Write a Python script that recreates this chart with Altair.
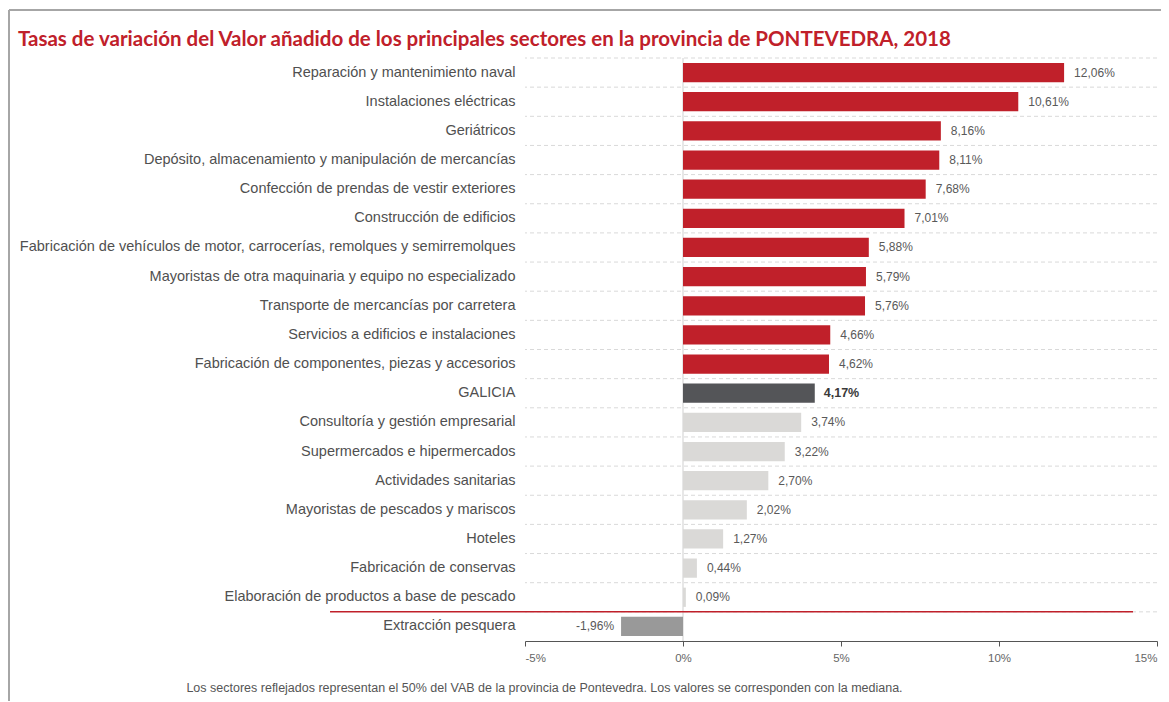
import altair as alt
import pandas as pd

categories = [
    "Reparación y mantenimiento naval",
    "Instalaciones eléctricas",
    "Geriátricos",
    "Depósito, almacenamiento y manipulación de mercancías",
    "Confección de prendas de vestir exteriores",
    "Construcción de edificios",
    "Fabricación de vehículos de motor, carrocerías, remolques y semirremolques",
    "Mayoristas de otra maquinaria y equipo no especializado",
    "Transporte de mercancías por carretera",
    "Servicios a edificios e instalaciones",
    "Fabricación de componentes, piezas y accesorios",
    "GALICIA",
    "Consultoría y gestión empresarial",
    "Supermercados e hipermercados",
    "Actividades sanitarias",
    "Mayoristas de pescados y mariscos",
    "Hoteles",
    "Fabricación de conservas",
    "Elaboración de productos a base de pescado",
    "Extracción pesquera",
]
values = [12.06, 10.61, 8.16, 8.11, 7.68, 7.01, 5.88, 5.79, 5.76, 4.66, 4.62,
          4.17, 3.74, 3.22, 2.70, 2.02, 1.27, 0.44, 0.09, -1.96]
groups = ["sup"] * 11 + ["galicia"] + ["inf"] * 7 + ["neg"]

x_ticks = [-5, 0, 5, 10, 15]
title_text = "Tasas de variación  del Valor añadido de los principales sectores en la provincia de PONTEVEDRA, 2018"
note_text = "Los sectores reflejados representan el 50% del VAB de la provincia de Pontevedra. Los valores se corresponden con la mediana."

df = pd.DataFrame({
    "cat": categories,
    "val": values,
    "grp": groups,
    "lbl": [f"{v:.2f}".replace(".", ",") + "%" for v in values],
})

FONT = "Liberation Sans"
xscale = alt.Scale(domain=[-5, 15], nice=False, zero=False)
yscale = alt.Scale(paddingInner=0, paddingOuter=0)

y_axis = alt.Axis(
    title=None,
    ticks=False,
    domain=False,
    grid=False,
    labelFont=FONT,
    labelFontSize=14.5,
    labelColor="#505050",
    labelPadding=10,
    labelLimit=600,
)

base = alt.Chart(df)

grid = base.mark_rule(color="#d9d9d9", strokeDash=[4, 3], strokeWidth=1).encode(
    y=alt.Y("cat:N", sort=categories, bandPosition=0, scale=yscale, axis=y_axis)
)

zero = alt.Chart(pd.DataFrame({"z": [0]})).mark_rule(color="#cfcfcf", strokeWidth=1).encode(
    x=alt.X("z:Q", scale=xscale)
)

bars = base.mark_bar(height={"band": 0.66}).encode(
    x=alt.X(
        "val:Q",
        scale=xscale,
        axis=alt.Axis(
            values=x_ticks,
            labelExpr="datum.value + '%'",
            grid=False,
            domainColor="#555555",
            tickColor="#555555",
            tickSize=5,
            labelColor="#666666",
            labelFont=FONT,
            labelFontSize=11.5,
            labelPadding=6,
            title=note_text,
            titleFont=FONT,
            titleFontSize=12.5,
            titleFontWeight="normal",
            titleColor="#555555",
            titleX=19,
            titleY=50,
            titleAlign="center",
            titleBaseline="alphabetic",
        ),
    ),
    y=alt.Y("cat:N", sort=categories, scale=yscale, axis=y_axis),
    color=alt.Color(
        "grp:N",
        scale=alt.Scale(
            domain=["sup", "galicia", "inf", "neg"],
            range=["#C0202A", "#545558", "#DAD9D7", "#999999"],
        ),
        legend=None,
    ),
)

sep_df = pd.DataFrame({"cat": ["Extracción pesquera"], "x1": [-11.17], "x2": [14.24]})
sep = alt.Chart(sep_df).mark_rule(color="#C0202A", strokeWidth=1.5).encode(
    y=alt.Y("cat:N", sort=categories, bandPosition=0),
    x=alt.X("x1:Q", scale=xscale),
    x2="x2:Q",
)

pos_lbl = base.transform_filter("datum.val >= 0 && datum.grp != 'galicia'").mark_text(
    align="left", baseline="middle", dx=10, font=FONT, fontSize=12, color="#595959"
).encode(x="val:Q", y=alt.Y("cat:N", sort=categories), text="lbl:N")

gal_lbl = base.transform_filter("datum.grp == 'galicia'").mark_text(
    align="left", baseline="middle", dx=9, font=FONT, fontSize=12.5, fontWeight="bold",
    color="#3a3a3a"
).encode(x="val:Q", y=alt.Y("cat:N", sort=categories), text="lbl:N")

neg_lbl = base.transform_filter("datum.val < 0").mark_text(
    align="right", baseline="middle", dx=-7, font=FONT, fontSize=12, color="#595959"
).encode(x="val:Q", y=alt.Y("cat:N", sort=categories), text="lbl:N")

frame_top = alt.Chart(pd.DataFrame({"a": [0]})).mark_rule(color="#a6a6a6", strokeWidth=2).encode(
    x=alt.value(-516), x2=alt.value(640), y=alt.value(-48)
)
frame_left = alt.Chart(pd.DataFrame({"a": [0]})).mark_rule(color="#a6a6a6", strokeWidth=2).encode(
    x=alt.value(-516), x2=alt.value(-516), y=alt.value(-48), y2=alt.value(660)
)

chart = alt.layer(
    grid, zero, bars, sep, pos_lbl, gal_lbl, neg_lbl, frame_top, frame_left
).properties(
    width=632,
    height=583,
    padding={"left": 517, "top": 50, "right": 4, "bottom": 60},
    autosize=alt.AutoSizeParams(type="none"),
    background="white",
    title=alt.TitleParams(
        text=title_text,
        anchor="start",
        frame="group",
        dx=-507,
        dy=53,
        offset=12,
        font="Lato",
        fontSize=20.5,
        fontWeight="bold",
        color="#C0202A",
    ),
).configure_view(stroke=None)

chart.save("out.html", embed_options={"renderer": "svg", "actions": False})
